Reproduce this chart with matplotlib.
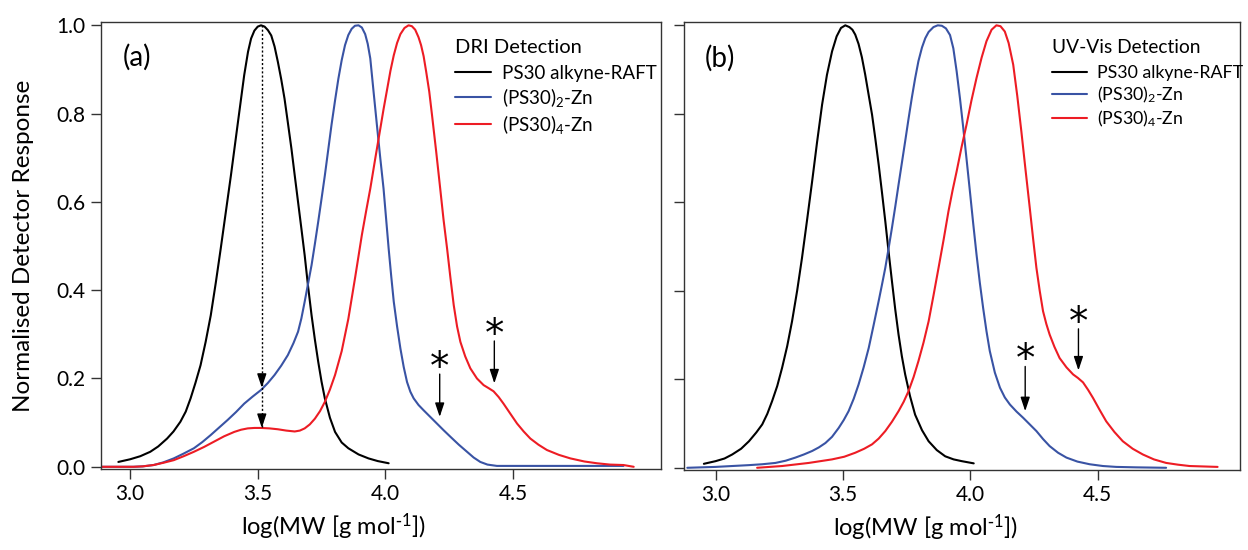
import matplotlib
matplotlib.use("Agg")
import matplotlib.pyplot as plt

plt.rcParams['font.family'] = ['Lato', 'DejaVu Sans']
plt.rcParams['mathtext.default'] = 'regular'

# ---------------- data: panel (a) DRI detection ----------------
a_black_x = [2.954, 3.000, 3.040, 3.079, 3.110, 3.145, 3.170, 3.197, 3.218, 3.237, 3.256, 3.276,
             3.296, 3.316, 3.336, 3.355, 3.375, 3.395, 3.421, 3.447, 3.462, 3.474, 3.487, 3.500,
             3.513, 3.527, 3.540, 3.553, 3.566, 3.579, 3.592, 3.605, 3.618, 3.632, 3.645, 3.658,
             3.671, 3.684, 3.697, 3.711, 3.724, 3.737, 3.750, 3.763, 3.783, 3.803, 3.829, 3.855,
             3.895, 3.934, 3.970, 4.013]
a_black_y = [0.011, 0.017, 0.024, 0.034, 0.046, 0.064, 0.080, 0.102, 0.125, 0.155, 0.190, 0.230,
             0.283, 0.343, 0.418, 0.494, 0.577, 0.660, 0.774, 0.887, 0.940, 0.970, 0.988, 0.997,
             1.000, 0.997, 0.989, 0.977, 0.952, 0.917, 0.878, 0.834, 0.780, 0.721, 0.660, 0.600,
             0.540, 0.479, 0.410, 0.343, 0.288, 0.238, 0.193, 0.155, 0.111, 0.079, 0.055, 0.042,
             0.028, 0.019, 0.013, 0.008]

a_blue_x = [2.886, 3.013, 3.050, 3.092, 3.130, 3.171, 3.210, 3.250, 3.283, 3.316, 3.349, 3.382,
            3.415, 3.447, 3.480, 3.513, 3.540, 3.566, 3.592, 3.618, 3.640, 3.658, 3.671, 3.684,
            3.697, 3.711, 3.724, 3.737, 3.750, 3.763, 3.776, 3.789, 3.803, 3.816, 3.829, 3.842,
            3.855, 3.868, 3.881, 3.895, 3.908, 3.921, 3.931, 3.941, 3.954, 3.967, 3.980, 3.993,
            4.003, 4.013, 4.023, 4.033, 4.046, 4.059, 4.072, 4.085, 4.098, 4.111, 4.130, 4.150,
            4.176, 4.202, 4.228, 4.255, 4.288, 4.320, 4.346, 4.372, 4.400, 4.437, 4.500, 4.594,
            4.933]
a_blue_y = [0.000, 0.000, 0.001, 0.004, 0.010, 0.019, 0.030, 0.042, 0.056, 0.072, 0.089, 0.106,
            0.124, 0.143, 0.159, 0.174, 0.190, 0.208, 0.229, 0.253, 0.280, 0.306, 0.336, 0.374,
            0.414, 0.457, 0.505, 0.555, 0.607, 0.660, 0.717, 0.774, 0.830, 0.879, 0.921, 0.955,
            0.978, 0.992, 0.999, 1.000, 0.995, 0.980, 0.958, 0.925, 0.849, 0.774, 0.700, 0.630,
            0.562, 0.494, 0.432, 0.374, 0.318, 0.268, 0.226, 0.192, 0.170, 0.155, 0.140, 0.128,
            0.113, 0.098, 0.083, 0.068, 0.050, 0.034, 0.021, 0.011, 0.005, 0.002, 0.002, 0.002,
            0.002]

a_red_x = [2.886, 3.013, 3.050, 3.092, 3.130, 3.171, 3.210, 3.250, 3.290, 3.329, 3.368, 3.408,
           3.435, 3.461, 3.487, 3.513, 3.546, 3.579, 3.612, 3.645, 3.665, 3.684, 3.704, 3.724,
           3.744, 3.763, 3.783, 3.803, 3.829, 3.855, 3.882, 3.908, 3.925, 3.941, 3.961, 3.980,
           3.993, 4.007, 4.020, 4.033, 4.046, 4.059, 4.075, 4.091, 4.104, 4.117, 4.130, 4.140,
           4.150, 4.160, 4.172, 4.183, 4.199, 4.215, 4.228, 4.242, 4.255, 4.268, 4.281, 4.294,
           4.313, 4.333, 4.359, 4.385, 4.405, 4.424, 4.444, 4.463, 4.490, 4.516, 4.542, 4.568,
           4.600, 4.633, 4.680, 4.725, 4.780, 4.829, 4.880, 4.933, 4.973]
a_red_y = [0.000, 0.000, 0.001, 0.004, 0.009, 0.015, 0.024, 0.034, 0.045, 0.057, 0.069, 0.079,
           0.084, 0.087, 0.088, 0.088, 0.087, 0.085, 0.082, 0.080, 0.082, 0.087, 0.096, 0.109,
           0.126, 0.147, 0.175, 0.208, 0.262, 0.335, 0.430, 0.525, 0.580, 0.630, 0.700, 0.765,
           0.810, 0.855, 0.897, 0.932, 0.960, 0.980, 0.994, 1.000, 0.998, 0.990, 0.973, 0.955,
           0.930, 0.895, 0.850, 0.796, 0.715, 0.630, 0.560, 0.494, 0.428, 0.366, 0.318, 0.283,
           0.250, 0.223, 0.200, 0.185, 0.178, 0.171, 0.158, 0.143, 0.120, 0.098, 0.080, 0.064,
           0.050, 0.038, 0.027, 0.019, 0.012, 0.008, 0.005, 0.004, 0.000]

# ---------------- data: panel (b) UV-Vis detection ----------------
b_black_x = [2.954, 3.000, 3.035, 3.065, 3.100, 3.131, 3.160, 3.183, 3.203, 3.222, 3.242, 3.261,
             3.281, 3.300, 3.320, 3.339, 3.359, 3.379, 3.398, 3.418, 3.437, 3.457, 3.475, 3.492,
             3.509, 3.525, 3.537, 3.548, 3.561, 3.574, 3.587, 3.600, 3.614, 3.627, 3.640, 3.653,
             3.666, 3.679, 3.692, 3.705, 3.718, 3.731, 3.744, 3.763, 3.783, 3.810, 3.836, 3.868,
             3.901, 3.934, 3.966, 4.013]
b_black_y = [0.009, 0.015, 0.021, 0.030, 0.043, 0.060, 0.080, 0.098, 0.122, 0.151, 0.185, 0.226,
             0.275, 0.331, 0.400, 0.474, 0.560, 0.648, 0.735, 0.821, 0.888, 0.941, 0.975, 0.994,
             1.000, 0.996, 0.990, 0.979, 0.958, 0.928, 0.889, 0.845, 0.798, 0.743, 0.685, 0.622,
             0.557, 0.488, 0.422, 0.358, 0.301, 0.252, 0.211, 0.162, 0.120, 0.085, 0.060, 0.040,
             0.026, 0.019, 0.015, 0.010]

b_blue_x = [2.889, 3.000, 3.065, 3.131, 3.183, 3.235, 3.275, 3.313, 3.346, 3.379, 3.405, 3.431,
            3.457, 3.483, 3.503, 3.522, 3.542, 3.561, 3.581, 3.601, 3.620, 3.640, 3.653, 3.666,
            3.679, 3.692, 3.705, 3.718, 3.731, 3.744, 3.757, 3.770, 3.783, 3.796, 3.810, 3.823,
            3.836, 3.855, 3.872, 3.888, 3.904, 3.920, 3.933, 3.946, 3.959, 3.972, 3.985, 3.998,
            4.011, 4.024, 4.037, 4.050, 4.063, 4.076, 4.096, 4.116, 4.135, 4.155, 4.181, 4.207,
            4.233, 4.259, 4.285, 4.311, 4.344, 4.377, 4.420, 4.468, 4.520, 4.572, 4.650, 4.768]
b_blue_y = [0.000, 0.002, 0.004, 0.006, 0.008, 0.011, 0.016, 0.023, 0.030, 0.038, 0.046, 0.056,
            0.070, 0.090, 0.108, 0.128, 0.156, 0.188, 0.227, 0.271, 0.322, 0.377, 0.414, 0.452,
            0.496, 0.542, 0.590, 0.640, 0.689, 0.738, 0.788, 0.836, 0.880, 0.919, 0.950, 0.971,
            0.985, 0.996, 1.000, 0.999, 0.993, 0.978, 0.948, 0.896, 0.835, 0.768, 0.697, 0.625,
            0.552, 0.482, 0.418, 0.361, 0.309, 0.264, 0.215, 0.181, 0.159, 0.143, 0.127, 0.113,
            0.098, 0.083, 0.065, 0.049, 0.034, 0.023, 0.014, 0.008, 0.004, 0.002, 0.001, 0.000]

b_red_x = [3.163, 3.261, 3.366, 3.457, 3.505, 3.548, 3.583, 3.614, 3.640, 3.666, 3.692, 3.718,
           3.738, 3.757, 3.777, 3.796, 3.816, 3.836, 3.855, 3.875, 3.895, 3.914, 3.930, 3.946,
           3.965, 3.985, 4.004, 4.024, 4.044, 4.063, 4.083, 4.102, 4.118, 4.135, 4.150, 4.168,
           4.184, 4.200, 4.216, 4.233, 4.246, 4.259, 4.272, 4.285, 4.298, 4.311, 4.330, 4.350,
           4.377, 4.403, 4.422, 4.442, 4.462, 4.481, 4.507, 4.533, 4.565, 4.598, 4.637, 4.677,
           4.720, 4.768, 4.815, 4.860, 4.970]
b_red_y = [0.000, 0.004, 0.011, 0.019, 0.025, 0.034, 0.043, 0.053, 0.066, 0.083, 0.104, 0.128,
           0.149, 0.173, 0.205, 0.241, 0.283, 0.331, 0.389, 0.452, 0.516, 0.580, 0.627, 0.670,
           0.724, 0.776, 0.830, 0.881, 0.927, 0.964, 0.990, 1.000, 0.998, 0.986, 0.960, 0.911,
           0.840, 0.760, 0.675, 0.587, 0.518, 0.452, 0.400, 0.354, 0.325, 0.301, 0.273, 0.248,
           0.227, 0.211, 0.203, 0.193, 0.176, 0.158, 0.131, 0.105, 0.081, 0.060, 0.043, 0.030,
           0.019, 0.011, 0.007, 0.004, 0.002]

series_labels = ['PS30 alkyne-RAFT', '(PS30)$_{2}$-Zn', '(PS30)$_{4}$-Zn']
colors = ['#000000', '#3953A4', '#ED1C24']
titles = ['DRI Detection', 'UV-Vis Detection']
panel_tags = ['(a)', '(b)']

# annotation values (log MW, response)
a_drop_x = 3.516
a_drop_top = 1.0
a_drop_tips = [0.179, 0.088]
a_star_x = [4.213, 4.427]
a_star_y = [0.214, 0.289]
a_star_tips = [0.113, 0.189]
b_star_x = [4.215, 4.424]
b_star_y = [0.233, 0.318]
b_star_tips = [0.128, 0.220]

xticks = [3.0, 3.5, 4.0, 4.5]
yticks = [0.0, 0.2, 0.4, 0.6, 0.8, 1.0]

W, H = 1248, 550
fig = plt.figure(figsize=(W / 100, H / 100), dpi=100)
ax1 = fig.add_axes([101 / W, 81 / H, 560 / W, 447 / H])
ax2 = fig.add_axes([684 / W, 80 / H, 556 / W, 448 / H])

panels = [
    (ax1, [(a_black_x, a_black_y), (a_blue_x, a_blue_y), (a_red_x, a_red_y)], (2.886, 5.080),
     0.632, 13.5, 0.415),
    (ax2, [(b_black_x, b_black_y), (b_blue_x, b_blue_y), (b_red_x, b_red_y)], (2.876, 5.058),
     0.662, 12.8, 0.435),
]

for i, (ax, data, xl, lx, lfs, xlab_x) in enumerate(panels):
    for (x, y), c, lab in zip(data, colors, series_labels):
        ax.plot(x, y, color=c, lw=1.5, label=lab, solid_joinstyle='round', solid_capstyle='round')
    ax.set_xlim(*xl)
    ax.set_ylim(-0.005, 1.0075)
    ax.set_xticks(xticks)
    ax.set_xticklabels([f'{t:.1f}' for t in xticks])
    ax.set_yticks(yticks)
    if i == 0:
        ax.set_yticklabels([f'{t:.1f}' for t in yticks])
        ax.set_ylabel('Normalised Detector Response', fontsize=17.5, labelpad=16)
    else:
        ax.set_yticklabels([])
    ax.tick_params(direction='out', length=7, width=1, labelsize=15, pad=4, color='#333333')
    for s in ax.spines.values():
        s.set_linewidth(1.0)
        s.set_color('#333333')
    ax.set_xlabel(r'log(MW [g mol$^{\text{-}1}$])', fontsize=17)
    ax.xaxis.set_label_coords(xlab_x, -0.094)
    ax.text(0.038, 0.92, panel_tags[i], transform=ax.transAxes, fontsize=20, va='center', ha='left')
    leg = ax.legend(title=titles[i], loc='upper left', bbox_to_anchor=(lx, 0.962), frameon=False,
                    fontsize=lfs, title_fontsize=lfs + 1, handlelength=1.95, handletextpad=0.55,
                    labelspacing=0.2, alignment='left', borderaxespad=0, borderpad=0)
    leg._legend_box.sep = 6.5

# dotted drop line with arrowheads in panel (a)
ax1.plot([a_drop_x, a_drop_x], [a_drop_top, a_drop_tips[1]], color='black', lw=1.0, ls=(0, (1.5, 1.5)))
arrow_head = dict(arrowstyle='-|>,head_length=0.6,head_width=0.2', color='black', lw=1.0,
                  shrinkA=0, shrinkB=0, mutation_scale=14)
for tip in a_drop_tips:
    ax1.annotate('', xy=(a_drop_x, tip), xytext=(a_drop_x, tip + 0.03), arrowprops=arrow_head)

# asterisk arrows
for ax, sx, sy, st in [(ax1, a_star_x, a_star_y, a_star_tips), (ax2, b_star_x, b_star_y, b_star_tips)]:
    for x, y, tip in zip(sx, sy, st):
        ax.text(x, y + 0.01, '*', fontsize=28, ha='center', va='center', family='DejaVu Sans')
        ax.annotate('', xy=(x, tip), xytext=(x, y - 0.004), arrowprops=arrow_head)

fig.savefig('out.png', dpi=100)
